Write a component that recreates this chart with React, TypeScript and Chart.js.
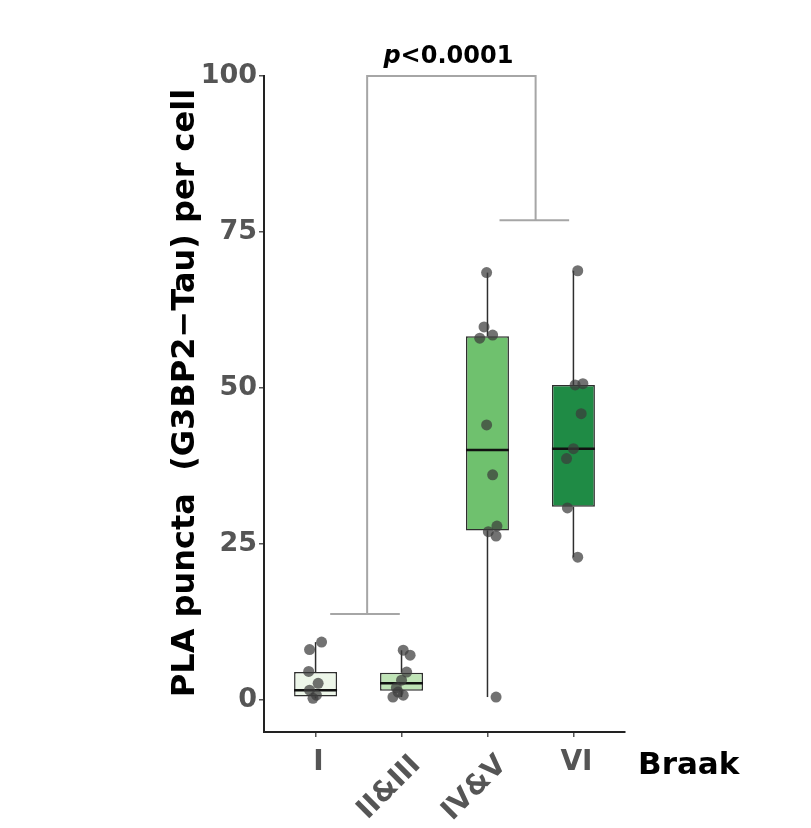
import React, { useEffect, useRef } from 'react';
import { Chart, registerables } from 'chart.js';

Chart.register(...registerables);

// ---- data ----
const categories = ['I', 'II&III', 'IV&V', 'VI'];
const tickAngles = [0, 45, 45, 0];
const boxFill = ['#edf6e9', '#bfe4b6', '#6fc16e', '#1f8b45'];

const whiskerLow = [0.3, 0.5, 0.5, 22.9];
const q1 = [0.6, 1.5, 27.2, 31.0];
const median = [1.6, 2.7, 40.1, 40.3];
const q3 = [4.5, 4.4, 58.3, 50.5];
const whiskerHigh = [9.3, 8.0, 68.5, 68.8];

const pointsI = [9.3, 8.1, 4.6, 2.7, 1.6, 0.3, 0.8];
const jitterI = [0.07, -0.07, -0.08, 0.03, -0.07, -0.03, 0.01];
const pointsII = [8.0, 7.2, 4.5, 3.2, 2.0, 0.5, 0.8, 1.3];
const jitterII = [0.02, 0.1, 0.06, 0.0, -0.06, -0.1, 0.02, -0.04];
const pointsIV = [68.5, 59.8, 58.0, 58.5, 44.1, 36.1, 27.9, 27.0, 26.3, 0.5];
const jitterIV = [-0.01, -0.04, -0.09, 0.06, -0.01, 0.06, 0.11, 0.01, 0.1, 0.1];
const pointsVI = [68.8, 50.5, 50.7, 45.9, 40.3, 38.7, 30.8, 22.9];
const jitterVI = [0.05, 0.02, 0.11, 0.09, 0.0, -0.08, -0.07, 0.05];

const groupPoints = [pointsI, pointsII, pointsIV, pointsVI];
const groupJitter = [jitterI, jitterII, jitterIV, jitterVI];

const yTicks = [0, 25, 50, 75, 100];
const yMin = -5.1;
const yMax = 100;
const xMin = -0.6;
const xMax = 3.6;
const boxHalf = 0.25;

// significance bracket
const bracketTopY = 100;
const bracketLeftX = 0.6;
const bracketRightX = 2.56;
const bracketLeftBaseY = 13.8;
const bracketRightBaseY = 76.9;
const bracketLeftSpan = [0.17, 0.98];
const bracketRightSpan = [2.14, 2.95];
const pItalic = 'p';
const pRest = '<0.0001';

const yTitle = 'PLA puncta  (G3BP2\u2212Tau) per cell';
const xTitle = 'Braak';

const FONT = "'DejaVu Sans', sans-serif";

function seg(points: { x: number; y: number }[], color: string, width: number, order: number) {
  return {
    type: 'line' as const,
    data: points,
    borderColor: color,
    borderWidth: width,
    pointRadius: 0,
    fill: false,
    tension: 0,
    order,
    clip: false as any,
  };
}

const textPlugin = {
  id: 'texts',
  afterDraw(chart: any) {
    const { ctx, chartArea } = chart;
    const x = chart.scales.x;
    const y = chart.scales.y;
    ctx.save();
    // x tick labels
    ctx.fillStyle = '#555555';
    ctx.font = `bold 28px ${FONT}`;
    categories.forEach((c, i) => {
      const px = x.getPixelForValue(i);
      const ang = tickAngles[i];
      if (ang === 0) {
        ctx.textAlign = 'center';
        ctx.textBaseline = 'alphabetic';
        ctx.fillText(c, px + 3, chartArea.bottom + 38);
      } else {
        ctx.save();
        ctx.translate(px + 20, chartArea.bottom + 34);
        ctx.rotate((-ang * Math.PI) / 180);
        ctx.textAlign = 'right';
        ctx.textBaseline = 'alphabetic';
        ctx.fillText(c, 0, 0);
        ctx.restore();
      }
    });
    // x title
    ctx.fillStyle = '#000000';
    ctx.font = `bold 31px ${FONT}`;
    ctx.textAlign = 'left';
    ctx.textBaseline = 'alphabetic';
    ctx.fillText(xTitle, chartArea.right + 13, chartArea.bottom + 42);
    // y title
    ctx.save();
    ctx.font = `bold 32px ${FONT}`;
    ctx.translate(194, (chartArea.top + chartArea.bottom) / 2 - 11);
    ctx.rotate(-Math.PI / 2);
    ctx.textAlign = 'center';
    ctx.fillText(yTitle, 0, 0);
    ctx.restore();
    // p value
    const cx = x.getPixelForValue((bracketLeftX + bracketRightX) / 2) - 3;
    const by = y.getPixelForValue(bracketTopY) - 13;
    ctx.font = `italic bold 24px ${FONT}`;
    const w1 = ctx.measureText(pItalic).width;
    ctx.font = `bold 24px ${FONT}`;
    const w2 = ctx.measureText(pRest).width;
    const sx = cx - (w1 + w2) / 2;
    ctx.textAlign = 'left';
    ctx.font = `italic bold 24px ${FONT}`;
    ctx.fillText(pItalic, sx, by);
    ctx.font = `bold 24px ${FONT}`;
    ctx.fillText(pRest, sx + w1, by);
    ctx.restore();
  },
};

export default function App() {
  const ref = useRef<HTMLCanvasElement | null>(null);

  useEffect(() => {
    if (!ref.current) return;
    const datasets: any[] = [];

    // points
    groupPoints.forEach((pts, g) => {
      datasets.push({
        type: 'scatter',
        data: pts.map((v, k) => ({ x: g + groupJitter[g][k], y: v })),
        backgroundColor: 'rgba(60,60,60,0.72)',
        borderWidth: 0,
        pointRadius: 5.5,
        order: 0,
        clip: false,
      });
    });

    // medians
    categories.forEach((_, g) => {
      datasets.push(
        seg(
          [
            { x: g - boxHalf, y: median[g] },
            { x: g + boxHalf, y: median[g] },
          ],
          '#111111',
          2.5,
          1
        )
      );
    });

    // boxes
    datasets.push({
      type: 'bar',
      data: categories.map((_, g) => ({ x: g, y: [q1[g], q3[g]] })),
      backgroundColor: boxFill,
      borderColor: '#2e2e2e',
      borderWidth: 1.5,
      borderSkipped: false,
      categoryPercentage: 1,
      barPercentage: boxHalf * 2,
      order: 2,
    });

    // whiskers
    categories.forEach((_, g) => {
      datasets.push(
        seg(
          [
            { x: g, y: whiskerLow[g] },
            { x: g, y: q1[g] },
          ],
          '#2e2e2e',
          1.5,
          3
        )
      );
      datasets.push(
        seg(
          [
            { x: g, y: q3[g] },
            { x: g, y: whiskerHigh[g] },
          ],
          '#2e2e2e',
          1.5,
          3
        )
      );
    });

    // bracket
    const bc = '#a6a6a6';
    datasets.push(
      seg(
        [
          { x: bracketLeftSpan[0], y: bracketLeftBaseY },
          { x: bracketLeftSpan[1], y: bracketLeftBaseY },
        ],
        bc,
        2,
        4
      )
    );
    datasets.push(
      seg(
        [
          { x: bracketLeftX, y: bracketLeftBaseY },
          { x: bracketLeftX, y: bracketTopY },
          { x: bracketRightX, y: bracketTopY },
          { x: bracketRightX, y: bracketRightBaseY },
        ],
        bc,
        2,
        4
      )
    );
    datasets.push(
      seg(
        [
          { x: bracketRightSpan[0], y: bracketRightBaseY },
          { x: bracketRightSpan[1], y: bracketRightBaseY },
        ],
        bc,
        2,
        4
      )
    );

    const chart = new Chart(ref.current, {
      type: 'scatter',
      data: { datasets },
      plugins: [textPlugin],
      options: {
        animation: false,
        responsive: true,
        maintainAspectRatio: false,
        layout: { padding: { top: 76, right: 186, bottom: 0, left: 0 } },
        plugins: { legend: { display: false }, tooltip: { enabled: false } },
        scales: {
          x: {
            type: 'linear',
            min: xMin,
            max: xMax,
            offset: false,
            afterBuildTicks: (s: any) => {
              s.ticks = categories.map((_, i) => ({ value: i }));
            },
            afterFit: (s: any) => {
              s.height = 96;
            },
            ticks: { callback: () => '', maxRotation: 0, autoSkip: false },
            grid: {
              offset: false,
              drawOnChartArea: false,
              drawTicks: true,
              tickLength: 5,
              color: '#555555',
              lineWidth: 1.5,
            },
            border: { display: true, color: '#222222', width: 2 },
          },
          y: {
            type: 'linear',
            min: yMin,
            max: yMax,
            afterBuildTicks: (s: any) => {
              s.ticks = yTicks.map((v) => ({ value: v }));
            },
            afterFit: (s: any) => {
              s.width = 264;
            },
            ticks: {
              color: '#555555',
              padding: 2,
              font: { family: FONT, weight: 'bold', size: 27 },
            },
            grid: {
              offset: false,
              drawOnChartArea: false,
              drawTicks: true,
              tickLength: 5,
              color: '#555555',
              lineWidth: 1.5,
            },
            border: { display: true, color: '#222222', width: 2 },
          },
        },
      } as any,
    });
    return () => chart.destroy();
  }, []);

  return (
    <div style={{ position: 'absolute', left: 0, top: 0, width: 811, height: 828, background: '#ffffff' }}>
      <canvas ref={ref} />
    </div>
  );
}
